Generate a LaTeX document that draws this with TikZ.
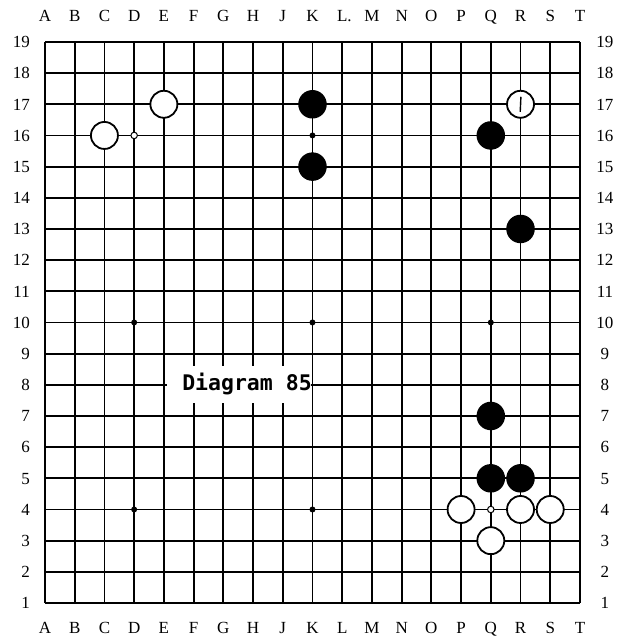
\documentclass[tikz,border=0pt]{standalone}
\usepackage{fontspec}
\setmainfont{Liberation Serif}
\newfontfamily\diagfont{DejaVu Sans Mono}
\begin{document}
\begin{tikzpicture}[x=29.72pt,y=31.17pt,
  gridline/.style={line width=1.8pt},
  wstone/.style={circle,draw,fill=white,line width=1.8pt,minimum size=27pt,inner sep=0pt},
  bstone/.style={circle,fill=black,minimum size=28.5pt,inner sep=0pt},
  hoshi/.style={circle,fill=black,minimum size=6pt,inner sep=0pt},
  hoshiw/.style={circle,draw,fill=white,line width=1pt,minimum size=6.5pt,inner sep=0pt},
  coordlabel/.style={font=\fontsize{17}{17}\selectfont,inner sep=0pt,text height=11.5pt,text depth=0pt},
  marktick/.style={line width=1.4pt}]
\useasboundingbox (-45pt,-35pt) rectangle (572pt,603pt);
% grid
\foreach \i in {0,...,18} {
  \draw[gridline] (\i,0) -- (\i,18);
  \draw[gridline] (0,\i) -- (18,\i);
}
% column labels
\foreach \l [count=\i from 0] in {A,B,C,D,E,F,G,H,J,K,L\rlap{.},M,N,O,P,Q,R,S,T} {
  \node[coordlabel] (top\i) at ([yshift=26pt]\i,18) {\l};
}
\foreach \l [count=\i from 0] in {A,B,C,D,E,F,G,H,J,K,L,M,N,O,P,Q,R,S,T} {
  \node[coordlabel] (bot\i) at ([yshift=-25pt]\i,0) {\l};
}
% row labels
\foreach \n in {1,...,19} {
  \node[coordlabel,anchor=east] (left\n) at ([xshift=-15pt]0,{\n-1}) {\n};
  \node[coordlabel] (right\n) at ([xshift=25pt]18,{\n-1}) {\n};
}
% label box
\fill[white] (122pt,200pt) rectangle (266pt,237pt);
\node[font=\diagfont\bfseries\fontsize{21.5}{21.5}\selectfont,inner sep=0pt] (title) at (202pt,219pt) {Diagram 85};
% hoshi
\node[hoshi] (hD4) at (3,3) {};
\node[hoshi] (hK4) at (9,3) {};
\node[hoshiw] (hQ4) at (15,3) {};
\node[hoshi] (hD10) at (3,9) {};
\node[hoshi] (hK10) at (9,9) {};
\node[hoshi] (hQ10) at (15,9) {};
\node[hoshiw] (hD16) at (3,15) {};
\node[hoshi] (hK16) at (9,15) {};
% white stones
\node[wstone] (c16) at (2,15) {};
\node[wstone] (e17) at (4,16) {};
\node[wstone] (r17) at (16,16) {};
\node[wstone] (p4) at (14,3) {};
\node[wstone] (r4) at (16,3) {};
\node[wstone] (s4) at (17,3) {};
\node[wstone] (q3) at (15,2) {};
% black stones
\node[bstone] (k17) at (9,16) {};
\node[bstone] (k15) at (9,14) {};
\node[bstone] (q16) at (15,15) {};
\node[bstone] (r13) at (16,12) {};
\node[bstone] (q7) at (15,6) {};
\node[bstone] (q5) at (15,4) {};
\node[bstone] (r5) at (16,4) {};
% mark on R17
\draw[marktick] ([xshift=-0.3pt,yshift=-7.5pt]r17.center) -- ([xshift=0.4pt,yshift=7.5pt]r17.center);
\end{tikzpicture}
\end{document}
